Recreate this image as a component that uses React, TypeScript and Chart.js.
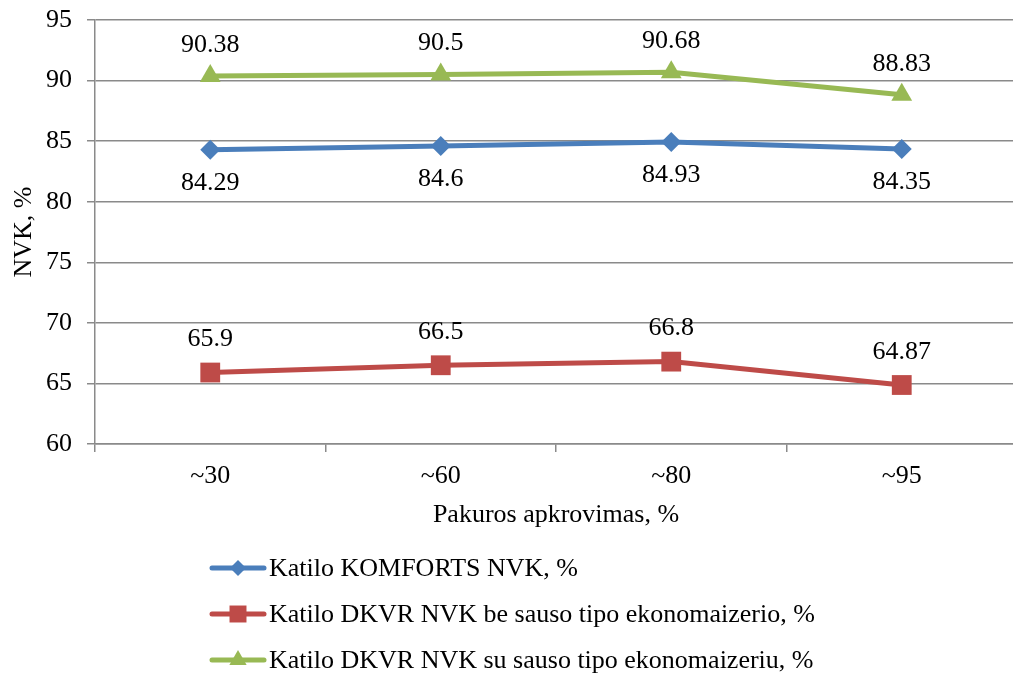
import React, { useEffect, useRef } from "react";
import { Chart, registerables } from "chart.js";

Chart.register(...registerables);

const categories = ["~30", "~60", "~80", "~95"];
const komforts = [84.29, 84.6, 84.93, 84.35];
const dkvrBe = [65.9, 66.5, 66.8, 64.87];
const dkvrSu = [90.38, 90.5, 90.68, 88.83];
const seriesNames = [
  "Katilo KOMFORTS NVK, %",
  "Katilo DKVR NVK be sauso tipo ekonomaizerio, %",
  "Katilo DKVR NVK su sauso tipo ekonomaizeriu, %",
];
const xTitle = "Pakuros apkrovimas, %";
const yTitle = "NVK, %";

const FONT = '"Liberation Serif", "Times New Roman", serif';
const GRID = "#8a8a8a";
const colors = ["#4A7EBB", "#BE4B48", "#98B954"];
const pointStyles = ["rectRot", "rect", "triangle"];
const pointRadii = [10, 14, 12];
const labelOffsets = [33, -33, -31];

function drawMarker(ctx: CanvasRenderingContext2D, style: string, x: number, y: number, r: number) {
  ctx.beginPath();
  if (style === "rectRot") {
    ctx.moveTo(x, y - r);
    ctx.lineTo(x + r, y);
    ctx.lineTo(x, y + r);
    ctx.lineTo(x - r, y);
  } else if (style === "rect") {
    const s = r * Math.SQRT1_2;
    ctx.rect(x - s, y - s, 2 * s, 2 * s);
  } else {
    const h = r * 1.5;
    const w = r * Math.sqrt(3);
    ctx.moveTo(x, y - r);
    ctx.lineTo(x + w / 2, y - r + h);
    ctx.lineTo(x - w / 2, y - r + h);
  }
  ctx.closePath();
  ctx.fill();
}

const textPlugin = {
  id: "textPlugin",
  afterDatasetsDraw(chart: any) {
    const ctx: CanvasRenderingContext2D = chart.ctx;
    const { left, right, top, bottom } = chart.chartArea;
    ctx.save();
    ctx.font = `26px ${FONT}`;
    ctx.fillStyle = "#000";
    ctx.textAlign = "center";
    ctx.textBaseline = "middle";
    chart.data.datasets.forEach((ds: any, i: number) => {
      const meta = chart.getDatasetMeta(i);
      meta.data.forEach((pt: any, j: number) => {
        ctx.fillText(String(ds.data[j]), pt.x, pt.y + labelOffsets[i]);
      });
    });
    // x title
    ctx.fillText(xTitle, (left + right) / 2, bottom + 71);
    // y title
    ctx.save();
    ctx.translate(24, (top + bottom) / 2);
    ctx.rotate(-Math.PI / 2);
    ctx.fillText(yTitle, 0, 0);
    ctx.restore();
    // legend
    ctx.textAlign = "left";
    chart.data.datasets.forEach((ds: any, i: number) => {
      const y = bottom + 124 + i * 46;
      const x0 = 212;
      const x1 = 264;
      ctx.strokeStyle = colors[i];
      ctx.fillStyle = colors[i];
      ctx.lineWidth = 5;
      ctx.lineCap = "round";
      ctx.beginPath();
      ctx.moveTo(x0, y);
      ctx.lineTo(x1, y);
      ctx.stroke();
      drawMarker(ctx, pointStyles[i], (x0 + x1) / 2, y, i === 0 ? 8 : i === 1 ? 12 : 10);
      ctx.fillStyle = "#000";
      ctx.fillText(ds.label, 269, y + 1);
    });
    ctx.restore();
  },
};

export default function App() {
  const ref = useRef<HTMLCanvasElement | null>(null);
  useEffect(() => {
    if (!ref.current) return;
    const seriesData = [komforts, dkvrBe, dkvrSu];
    const chart = new Chart(ref.current, {
      type: "line",
      data: {
        labels: categories,
        datasets: seriesData.map((d, i) => ({
          label: seriesNames[i],
          data: d,
          borderColor: colors[i],
          backgroundColor: colors[i],
          borderWidth: 5,
          pointStyle: pointStyles[i] as any,
          pointRadius: pointRadii[i],
          pointBorderWidth: 0,
          pointBackgroundColor: colors[i],
          tension: 0,
        })),
      },
      options: {
        responsive: false,
        animation: false,
        layout: { padding: { top: 20, right: 8, left: 0, bottom: 0 } },
        plugins: { legend: { display: false }, tooltip: { enabled: false } },
        scales: {
          x: {
            type: "category",
            offset: true,
            grid: { offset: true, drawOnChartArea: false, drawTicks: true, tickLength: 8, color: GRID, lineWidth: 1.5 },
            border: { color: GRID, width: 1.5 },
            ticks: { color: "#000", font: { family: FONT, size: 26 }, padding: 9 },
            afterFit: (s: any) => {
              s.height = 230;
              s.paddingLeft = 0;
              s.paddingRight = 0;
            },
          },
          y: {
            min: 60,
            max: 95,
            ticks: { stepSize: 5, color: "#000", font: { family: FONT, size: 26 }, padding: 15 },
            grid: { color: GRID, lineWidth: 1.5, tickLength: 8 },
            border: { color: GRID, width: 1.5 },
            afterFit: (s: any) => {
              s.width = 95;
              s.paddingTop = 0;
              s.paddingBottom = 0;
            },
          },
        },
      },
      plugins: [textPlugin],
    });
    return () => chart.destroy();
  }, []);
  return (
    <div style={{ position: "absolute", left: 0, top: 0, width: 1013, height: 674, overflow: "hidden", background: "#fff" }}>
      <canvas ref={ref} width={1031} height={674} style={{ display: "block" }} />
    </div>
  );
}
